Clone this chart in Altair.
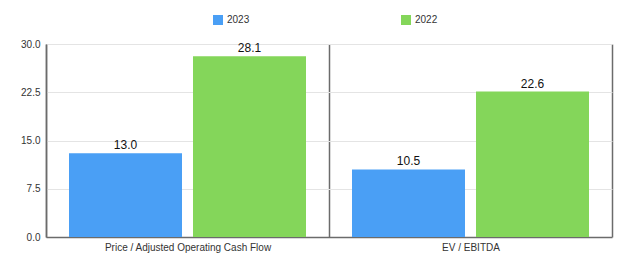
import altair as alt
import pandas as pd

categories = ["Price / Adjusted Operating Cash Flow", "EV / EBITDA"]
series = ["2023", "2022"]
values_2023 = [13.0, 10.5]
values_2022 = [28.1, 22.6]
colors = ["#4a9ff5", "#84d65a"]

rows = []
for c, v in zip(categories, values_2023):
    rows.append({"category": c, "series": "2023", "value": v})
for c, v in zip(categories, values_2022):
    rows.append({"category": c, "series": "2022", "value": v})
df = pd.DataFrame(rows)

x = alt.X("category:N", sort=categories, title=None,
          scale=alt.Scale(paddingInner=0, paddingOuter=0),
          axis=alt.Axis(labelAngle=0, tickBand="extent", grid=True, gridColor="#6b6b6b",
                        gridWidth=1.5, ticks=False, domainColor="#6b6b6b", domainWidth=1.5,
                        labelFont="Liberation Sans", labelFontSize=10, labelColor="#333333",
                        labelPadding=5))
xo = alt.XOffset("series:N", sort=series,
                 scale=alt.Scale(paddingInner=0.0887, paddingOuter=0.1855))
y = alt.Y("value:Q", title=None,
          scale=alt.Scale(domain=[0, 30], nice=False),
          axis=alt.Axis(values=[0, 7.5, 15, 22.5, 30], format=".1f", gridColor="#e4e4e4",
                        ticks=False, domainColor="#6b6b6b", domainWidth=1.5,
                        labelFont="Liberation Sans", labelFontSize=10, labelColor="#333333",
                        labelPadding=6))

base = alt.Chart(df)
bars = base.mark_bar().encode(
    x=x, xOffset=xo, y=y,
    color=alt.Color("series:N", sort=series, title=None,
                    scale=alt.Scale(domain=series, range=colors),
                    legend=alt.Legend(orient="none", legendX=167, legendY=-29, direction="horizontal",
                                      columns=2, columnPadding=151, symbolType="square",
                                      symbolSize=100, symbolStrokeWidth=0, symbolOpacity=1,
                                      labelFont="Liberation Sans", labelFontSize=10,
                                      labelColor="#333333", labelOffset=4)),
)
labels = base.mark_text(dy=-8, font="Liberation Sans", fontSize=12, color="#111111").encode(
    x=x, xOffset=xo, y=y, text=alt.Text("value:Q", format=".1f"),
)

chart = (bars + labels).properties(
    width=566, height=193,
    padding={"left": 46, "top": 44, "right": 28, "bottom": 36},
    autosize=alt.AutoSizeParams(type="none"),
).configure_view(stroke=None)

chart.save("out.html", embed_options={"renderer": "svg", "actions": False})
